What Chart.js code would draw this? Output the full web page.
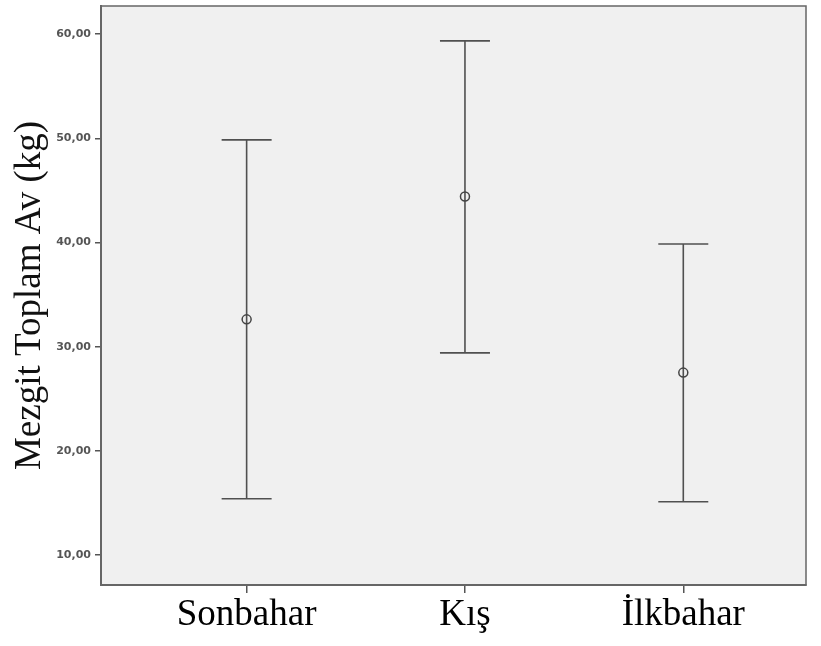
<!DOCTYPE html>
<html>
<head>
<meta charset="utf-8">
<script src="https://cdn.jsdelivr.net/npm/chart.js@4/dist/chart.umd.min.js"></script>
<style>
  html, body { margin: 0; padding: 0; background: #fff; }
  #wrap { width: 821px; height: 646px; }
</style>
</head>
<body>
<div id="wrap"><canvas id="c" width="821" height="646"></canvas></div>
<script>
const categories = ['Sonbahar', 'Kış', 'İlkbahar'];
const means = [32.63, 44.43, 27.52];
const lowerBounds = [15.41, 29.41, 15.12];
const upperBounds = [49.86, 59.36, 39.87];
const yTickValues = [10, 20, 30, 40, 50, 60];
const yTitle = 'Mezgit Toplam Av (kg)';

const points = means.map((m, i) => ({ x: i + 1, y: m }));

const plotBackground = {
  id: 'plotBackground',
  beforeDraw(chart) {
    const { ctx, chartArea: a } = chart;
    ctx.save();
    ctx.fillStyle = '#ffffff';
    ctx.fillRect(0, 0, chart.width, chart.height);
    ctx.fillStyle = '#f0f0f0';
    ctx.fillRect(a.left, a.top, a.right - a.left, a.bottom - a.top);
    ctx.strokeStyle = '#666666';
    ctx.lineWidth = 1.5;
    ctx.strokeRect(a.left, a.top, a.right - a.left, a.bottom - a.top);
    ctx.restore();
  }
};

const errorBars = {
  id: 'errorBars',
  beforeDatasetsDraw(chart) {
    const { ctx, scales: { x, y } } = chart;
    const capHalf = 25;
    ctx.save();
    ctx.strokeStyle = '#505050';
    ctx.lineWidth = 1.6;
    lowerBounds.forEach((lo, i) => {
      const px = x.getPixelForValue(i + 1);
      const pLo = y.getPixelForValue(lo);
      const pHi = y.getPixelForValue(upperBounds[i]);
      ctx.beginPath();
      ctx.moveTo(px, pLo); ctx.lineTo(px, pHi);
      ctx.moveTo(px - capHalf, pLo); ctx.lineTo(px + capHalf, pLo);
      ctx.moveTo(px - capHalf, pHi); ctx.lineTo(px + capHalf, pHi);
      ctx.stroke();
    });
    ctx.restore();
  }
};

new Chart(document.getElementById('c'), {
  type: 'scatter',
  data: {
    datasets: [{
      data: points,
      pointStyle: 'circle',
      pointRadius: 4.5,
      pointBorderWidth: 1.5,
      pointBorderColor: '#444444',
      pointBackgroundColor: 'rgba(0,0,0,0)'
    }]
  },
  options: {
    responsive: false,
    animation: false,
    layout: { padding: { top: 4, right: 15, left: 0, bottom: 0 } },
    plugins: { legend: { display: false }, tooltip: { enabled: false } },
    scales: {
      x: {
        type: 'linear',
        min: 0.333,
        max: 3.562,
        afterFit(scale) { scale.height = 61; scale.paddingLeft = 0; scale.paddingRight = 0; },
        afterBuildTicks(scale) { scale.ticks = categories.map((c, i) => ({ value: i + 1 })); },
        border: { display: true, color: '#666666', width: 2 },
        grid: { drawOnChartArea: false, drawTicks: true, tickLength: 8, color: '#555555', lineWidth: 1.5 },
        ticks: {
          autoSkip: false,
          maxRotation: 0,
          padding: 0,
          color: '#000000',
          font: { family: '"Liberation Serif", "Times New Roman", serif', size: 37 },
          callback: (v) => categories[Math.round(v) - 1]
        }
      },
      y: {
        type: 'linear',
        min: 7.13,
        max: 62.71,
        afterFit(scale) { scale.width = 101; scale.paddingTop = 0; scale.paddingBottom = 0; },
        afterBuildTicks(scale) { scale.ticks = yTickValues.map(v => ({ value: v })); },
        border: { display: true, color: '#666666', width: 2 },
        grid: { drawOnChartArea: false, drawTicks: true, tickLength: 6, color: '#555555', lineWidth: 1.5 },
        ticks: {
          padding: 4,
          color: '#555555',
          font: { family: '"DejaVu Sans", sans-serif', size: 11, weight: 'bold' },
          callback: (v) => v.toFixed(2).replace('.', ',')
        },
        title: {
          display: true,
          text: yTitle,
          color: '#111111',
          padding: { top: 8, bottom: 0 },
          font: { family: '"Liberation Serif", "Times New Roman", serif', size: 37 }
        }
      }
    }
  },
  plugins: [plotBackground, errorBars]
});
</script>
</body>
</html>
